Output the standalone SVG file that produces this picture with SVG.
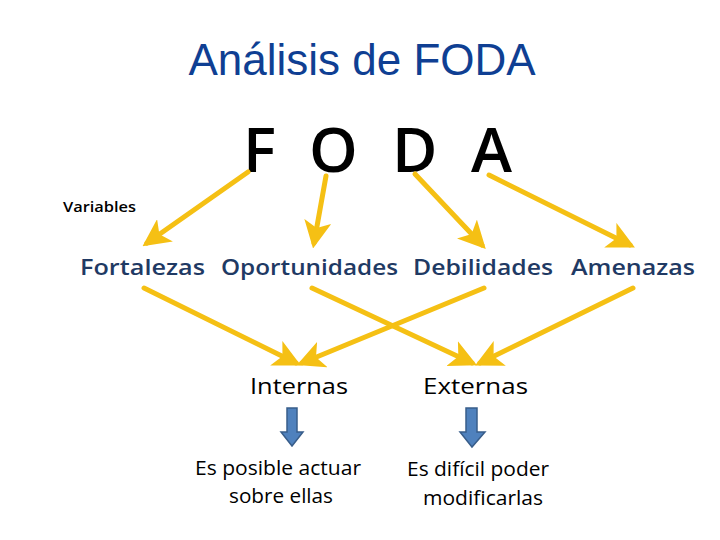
<svg xmlns="http://www.w3.org/2000/svg" width="720" height="540" viewBox="0 0 720 540">
<style>
.title{font-family:"Liberation Sans",Arial,sans-serif;font-size:44px;fill:#0f3f93}
.big{font-family:"Open Sans","Liberation Sans",sans-serif;font-size:62px;font-weight:600;fill:#000}
.var{font-family:"Open Sans","Liberation Sans",sans-serif;font-size:15px;font-weight:600;fill:#000}
.lab{font-family:"Open Sans","Liberation Sans",sans-serif;font-size:21px;font-weight:600;fill:#1f3a64}
.ie{font-family:"Open Sans","Liberation Sans",sans-serif;font-size:22px;font-weight:500;fill:#000}
.desc{font-family:"Open Sans","Liberation Sans",sans-serif;font-size:20px;fill:#000}
.con{stroke:#f5c014;stroke-width:5;fill:none;stroke-linecap:round;marker-end:url(#ah)}
.blk{fill:#4f81bd;stroke:#385d8a;stroke-width:1.5}
</style>
<defs>
<marker id="ah" viewBox="0 0 10 10" refX="8" refY="5" markerWidth="5.5" markerHeight="5.5" orient="auto" markerUnits="strokeWidth">
<path d="M0,0 L10,5 L0,10 L2.5,5 Z" fill="#f5c014"/>
</marker>
</defs>
<rect width="720" height="540" fill="#fff"/>
<text class="title" x="362" y="75" text-anchor="middle">Análisis de FODA</text>
<g id="foda">
<text class="big" x="243" y="172">F</text>
<text class="big" x="309" y="172">O</text>
<text class="big" x="392" y="172">D</text>
<text class="big" x="471" y="172">A</text>
</g>
<g id="variables"><text class="var" x="63" y="212" textLength="73" lengthAdjust="spacingAndGlyphs">Variables</text></g>
<g id="fortalezas"><text class="lab" x="80" y="275" textLength="125" lengthAdjust="spacingAndGlyphs">Fortalezas</text></g>
<g id="oportunidades"><text class="lab" x="221" y="275" textLength="177" lengthAdjust="spacingAndGlyphs">Oportunidades</text></g>
<g id="debilidades"><text class="lab" x="413" y="275" textLength="140" lengthAdjust="spacingAndGlyphs">Debilidades</text></g>
<g id="amenazas"><text class="lab" x="571" y="275" textLength="124" lengthAdjust="spacingAndGlyphs">Amenazas</text></g>
<g id="internas"><text class="ie" x="250" y="394" textLength="98" lengthAdjust="spacingAndGlyphs">Internas</text></g>
<g id="externas"><text class="ie" x="423" y="394" textLength="105" lengthAdjust="spacingAndGlyphs">Externas</text></g>
<g id="arrow-int"><path class="blk" d="M287,408 H297 V432 H303 L292,446 L281,432 H287 Z"/></g>
<g id="arrow-ext"><path class="blk" d="M466,408 H477 V432 H485 L472,447 L460,432 H466 Z"/></g>
<g id="desc-int">
<text class="desc" x="195" y="475" textLength="166" lengthAdjust="spacingAndGlyphs">Es posible actuar</text>
<text class="desc" x="229" y="503" textLength="104" lengthAdjust="spacingAndGlyphs">sobre ellas</text>
</g>
<g id="desc-ext">
<text class="desc" x="407" y="476" textLength="142" lengthAdjust="spacingAndGlyphs">Es difícil poder</text>
<text class="desc" x="423" y="505" textLength="120" lengthAdjust="spacingAndGlyphs">modificarlas</text>
</g>
<g id="connectors">
<line class="con" x1="248" y1="172" x2="147" y2="243"/>
<line class="con" x1="326" y1="176" x2="314" y2="243"/>
<line class="con" x1="415" y1="174" x2="482" y2="245"/>
<line class="con" x1="489" y1="175" x2="630" y2="245"/>
<line class="con" x1="144" y1="288" x2="296" y2="363"/>
<line class="con" x1="312" y1="288" x2="472" y2="363"/>
<line class="con" x1="484" y1="288" x2="302" y2="363"/>
<line class="con" x1="633" y1="288" x2="480" y2="363"/>
</g>
</svg>
